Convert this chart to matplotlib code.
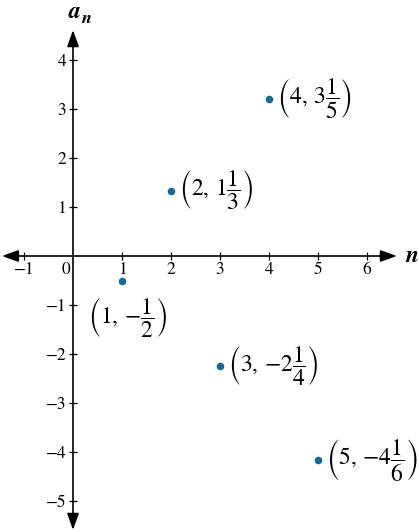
import matplotlib
matplotlib.use("Agg")
import matplotlib.pyplot as plt

plt.rcParams['mathtext.fontset'] = 'stix'
plt.rcParams['font.family'] = ['STIXGeneral', 'DejaVu Serif']

n_vals = [1, 2, 3, 4, 5]
a_vals = [-1/2, 4/3, -9/4, 16/5, -25/6]
labels = [r'$\left(1,\,{-}\dfrac{1}{2}\right)$',
          r'$\left(2,\,1\dfrac{1}{3}\right)$',
          r'$\left(3,\,{-}2\dfrac{1}{4}\right)$',
          r'$\left(4,\,3\dfrac{1}{5}\right)$',
          r'$\left(5,\,{-}4\dfrac{1}{6}\right)$']
xticks = [-1, 1, 2, 3, 4, 5, 6]
yticks = [-5, -4, -3, -2, -1, 1, 2, 3, 4]

fig = plt.figure(figsize=(4.19, 5.32), dpi=100)
ax = fig.add_axes([0, 0, 1, 1])
ax.set_xlim(-73/49, (419-73)/49)
ax.set_ylim((256-532)/49, 256/49)

for s in ax.spines.values():
    s.set_visible(False)
ax.spines['left'].set_position(('data', 0))
ax.spines['bottom'].set_position(('data', 0))

ax.set_xticks(xticks)
ax.set_yticks(yticks)
ax.set_xticklabels([str(v).replace('-', '\u2212') for v in xticks])
ax.set_yticklabels([str(v).replace('-', '\u2212') for v in yticks])
ax.tick_params(direction='inout', length=6, width=0.9, labelsize=12.5, colors='black')
ax.tick_params(axis='x', pad=1)
ax.tick_params(axis='y', pad=2)

arrow = dict(arrowstyle='<|-|>,head_length=10,head_width=3.6', mutation_scale=1,
             shrinkA=0, shrinkB=0, color='black', lw=1.2)
ax.annotate('', xy=(6.61, 0), xytext=(-1.45, 0), arrowprops=arrow)
ax.annotate('', xy=(0, 4.61), xytext=(0, -5.59), arrowprops=arrow)

ax.text(-0.06, -0.12, '0', ha='right', va='top', fontsize=12.5)
ax.text(-0.1, 4.85, 'a', fontsize=17, fontstyle='italic', fontweight='bold',
        ha='left', va='baseline')
ax.text(0.16, 4.76, 'n', fontsize=13, fontstyle='italic', fontweight='bold',
        ha='left', va='baseline')
ax.text(6.78, 0, 'n', fontsize=17, fontstyle='italic', fontweight='bold',
        ha='left', va='center')

ax.scatter(n_vals, a_vals, s=30, color='#0f6c9c', zorder=5, linewidths=0)

for i, (x, y, lab) in enumerate(zip(n_vals, a_vals, labels)):
    if i == 0:
        ax.annotate(lab, (x, y), xytext=(4, -27), textcoords='offset points',
                    ha='center', va='center', fontsize=17)
    else:
        ax.annotate(lab, (x, y), xytext=(6, 0), textcoords='offset points',
                    ha='left', va='center', fontsize=17)

fig.savefig('out.png', dpi=100)
